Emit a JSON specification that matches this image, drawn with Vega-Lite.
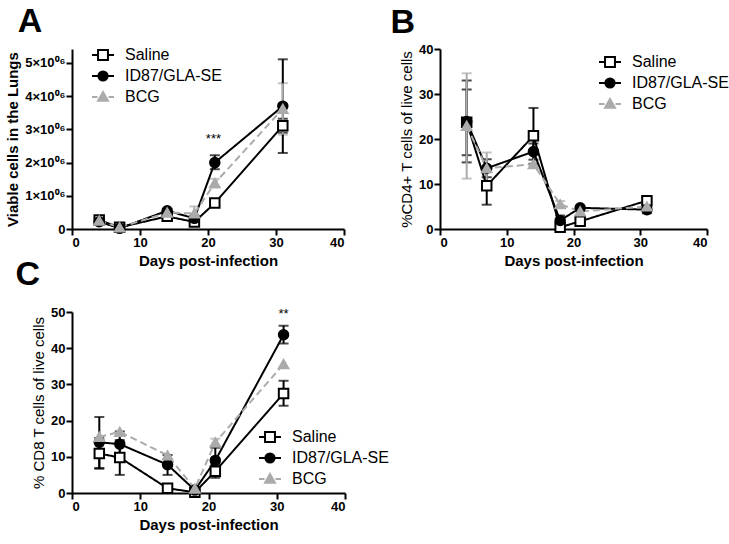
{
  "$schema": "https://vega.github.io/schema/vega-lite/v6.json",
  "padding": {"left": 5, "top": 5, "right": 5, "bottom": 5},
  "config": {
    "font": "Liberation Sans",
    "view": {"stroke": null},
    "axis": {"domainColor": "black", "domainWidth": 2, "tickColor": "black", "tickWidth": 2, "tickSize": 6, "labelFontWeight": "bold", "labelFontSize": 13, "labelColor": "black", "titleFontSize": 15, "titleFontWeight": "bold", "titleColor": "black", "grid": false, "labelPadding": 1, "titlePadding": 4, "labelOverlap": false},
    "title": {"fontSize": 34, "fontWeight": "bold", "anchor": "start", "color": "black", "offset": 0, "dx": 12},
    "legend": {"labelFont": "Liberation Sans"}
  },
  "datasets": {
    "A": [
      {"g": "Saline", "day": 4, "v": 270000, "lo": 220000, "hi": 320000},
      {"g": "Saline", "day": 7, "v": 50000, "lo": null, "hi": null},
      {"g": "Saline", "day": 14, "v": 380000, "lo": 320000, "hi": 440000},
      {"g": "Saline", "day": 18, "v": 210000, "lo": 170000, "hi": 250000},
      {"g": "Saline", "day": 21, "v": 780000, "lo": 700000, "hi": 860000},
      {"g": "Saline", "day": 31, "v": 3110000, "lo": 2900000, "hi": 3320000},
      {"g": "ID87/GLA-SE", "day": 4, "v": 220000, "lo": 180000, "hi": 260000},
      {"g": "ID87/GLA-SE", "day": 7, "v": 20000, "lo": null, "hi": null},
      {"g": "ID87/GLA-SE", "day": 14, "v": 550000, "lo": 500000, "hi": 600000},
      {"g": "ID87/GLA-SE", "day": 18, "v": 320000, "lo": 260000, "hi": 380000},
      {"g": "ID87/GLA-SE", "day": 21, "v": 2000000, "lo": 1800000, "hi": 2220000},
      {"g": "ID87/GLA-SE", "day": 31, "v": 3700000, "lo": 2290000, "hi": 5110000},
      {"g": "BCG", "day": 4, "v": 250000, "lo": null, "hi": null},
      {"g": "BCG", "day": 7, "v": 50000, "lo": null, "hi": null},
      {"g": "BCG", "day": 14, "v": 490000, "lo": null, "hi": null},
      {"g": "BCG", "day": 18, "v": 470000, "lo": 280000, "hi": 680000},
      {"g": "BCG", "day": 21, "v": 1380000, "lo": 1250000, "hi": 1510000},
      {"g": "BCG", "day": 31, "v": 3620000, "lo": 2840000, "hi": 4390000}
    ],
    "B": [
      {"g": "Saline", "day": 4, "v": 23.7, "lo": 16.4, "hi": 31.0},
      {"g": "Saline", "day": 7, "v": 9.6, "lo": 5.4, "hi": 13.8},
      {"g": "Saline", "day": 14, "v": 20.7, "lo": 14.5, "hi": 26.9},
      {"g": "Saline", "day": 18, "v": 0.4, "lo": null, "hi": null},
      {"g": "Saline", "day": 21, "v": 1.7, "lo": null, "hi": null},
      {"g": "Saline", "day": 31, "v": 6.3, "lo": null, "hi": null},
      {"g": "ID87/GLA-SE", "day": 4, "v": 23.9, "lo": 14.8, "hi": 33.0},
      {"g": "ID87/GLA-SE", "day": 7, "v": 13.5, "lo": 11.5, "hi": 15.5},
      {"g": "ID87/GLA-SE", "day": 14, "v": 17.2, "lo": 15.4, "hi": 19.0},
      {"g": "ID87/GLA-SE", "day": 18, "v": 1.9, "lo": 0.8, "hi": 3.0},
      {"g": "ID87/GLA-SE", "day": 21, "v": 4.7, "lo": null, "hi": null},
      {"g": "ID87/GLA-SE", "day": 31, "v": 4.3, "lo": 3.5, "hi": 5.1},
      {"g": "BCG", "day": 4, "v": 22.9, "lo": 11.2, "hi": 34.6},
      {"g": "BCG", "day": 7, "v": 13.5, "lo": 10.0, "hi": 17.0},
      {"g": "BCG", "day": 14, "v": 14.4, "lo": null, "hi": null},
      {"g": "BCG", "day": 18, "v": 5.5, "lo": 4.8, "hi": 6.2},
      {"g": "BCG", "day": 21, "v": 3.9, "lo": null, "hi": null},
      {"g": "BCG", "day": 31, "v": 5.0, "lo": null, "hi": null}
    ],
    "C": [
      {"g": "Saline", "day": 4, "v": 10.9, "lo": 6.7, "hi": 15.2},
      {"g": "Saline", "day": 7, "v": 9.8, "lo": 5.0, "hi": 14.6},
      {"g": "Saline", "day": 14, "v": 1.3, "lo": null, "hi": null},
      {"g": "Saline", "day": 18, "v": 0.2, "lo": null, "hi": null},
      {"g": "Saline", "day": 21, "v": 6.0, "lo": 4.2, "hi": 7.8},
      {"g": "Saline", "day": 31, "v": 27.5, "lo": 24.1, "hi": 31.0},
      {"g": "ID87/GLA-SE", "day": 4, "v": 14.0, "lo": 6.9, "hi": 21.0},
      {"g": "ID87/GLA-SE", "day": 7, "v": 13.5, "lo": 10.0, "hi": 17.0},
      {"g": "ID87/GLA-SE", "day": 14, "v": 7.8, "lo": 5.0, "hi": 10.5},
      {"g": "ID87/GLA-SE", "day": 18, "v": 0.8, "lo": null, "hi": null},
      {"g": "ID87/GLA-SE", "day": 21, "v": 9.0, "lo": 5.5, "hi": 12.5},
      {"g": "ID87/GLA-SE", "day": 31, "v": 43.7, "lo": 41.3, "hi": 46.2},
      {"g": "BCG", "day": 4, "v": 15.5, "lo": null, "hi": null},
      {"g": "BCG", "day": 7, "v": 16.9, "lo": null, "hi": null},
      {"g": "BCG", "day": 14, "v": 10.4, "lo": null, "hi": null},
      {"g": "BCG", "day": 18, "v": 1.2, "lo": null, "hi": null},
      {"g": "BCG", "day": 21, "v": 14.0, "lo": 13.0, "hi": 15.0},
      {"g": "BCG", "day": 31, "v": 35.6, "lo": null, "hi": null}
    ]
  },
  "spacing": -10,
  "vconcat": [
    {
      "spacing": 45,
      "hconcat": [
        {
          "width": 272, "height": 180,
          "title": {"text": "A"},
          "data": {"name": "A"},
          "encoding": {"x": {"field": "day", "type": "quantitative", "scale": {"domain": [0, 40], "nice": false}, "axis": {"values": [0, 10, 20, 30, 40], "title": "Days post-infection"}}},
          "layer": [
            {"transform": [{"filter": "isValid(datum.lo)"}], "mark": {"type": "errorbar", "thickness": 2, "ticks": {"size": 10, "thickness": 2}},
             "encoding": {"y": {"field": "lo", "type": "quantitative", "scale": {"domain": [0, 5420000], "nice": false}, "axis": {"values": [0, 1000000, 2000000, 3000000, 4000000, 5000000], "labelExpr": "datum.value == 0 ? '0' : format(datum.value/1000000, 'd') + '×10⁰⁶'", "title": "Viable cells in the Lungs"}}, "y2": {"field": "hi"}, "color": {"field": "g", "type": "nominal", "scale": {"domain": ["Saline", "ID87/GLA-SE", "BCG"], "range": ["#000000", "#000000", "#ababab"]}, "legend": null}}},
            {"mark": {"type": "line", "strokeWidth": 2},
             "encoding": {"y": {"field": "v", "type": "quantitative", "axis": {"values": [0, 1000000, 2000000, 3000000, 4000000, 5000000], "labelExpr": "datum.value == 0 ? '0' : format(datum.value/1000000, 'd') + '×10⁰⁶'", "title": "Viable cells in the Lungs"}},
               "color": {"field": "g", "type": "nominal", "legend": null},
               "strokeDash": {"field": "g", "type": "nominal", "scale": {"domain": ["Saline", "ID87/GLA-SE", "BCG"], "range": [[1, 0], [1, 0], [7, 4]]}, "legend": null}}},
            {"mark": {"type": "point", "filled": true, "opacity": 1, "size": 90, "strokeWidth": 2},
             "encoding": {"y": {"field": "v", "type": "quantitative", "axis": {"values": [0, 1000000, 2000000, 3000000, 4000000, 5000000], "labelExpr": "datum.value == 0 ? '0' : format(datum.value/1000000, 'd') + '×10⁰⁶'", "title": "Viable cells in the Lungs"}},
               "shape": {"field": "g", "type": "nominal", "scale": {"domain": ["Saline", "ID87/GLA-SE", "BCG"], "range": ["square", "circle", "triangle-up"]}, "legend": null},
               "fill": {"field": "g", "type": "nominal", "scale": {"domain": ["Saline", "ID87/GLA-SE", "BCG"], "range": ["#ffffff", "#000000", "#ababab"]}, "legend": null},
               "stroke": {"field": "g", "type": "nominal", "scale": {"domain": ["Saline", "ID87/GLA-SE", "BCG"], "range": ["#000000", "#000000", "#ababab"]}, "legend": null}}},
            {"transform": [{"filter": "datum.day < 0"}], "mark": {"type": "point", "filled": true, "opacity": 1, "strokeWidth": 2},
             "encoding": {
               "shape": {"field": "g", "type": "nominal", "scale": {"domain": ["Saline", "ID87/GLA-SE", "BCG"], "range": ["M-1,0H-0.45M0.45,0H1M-0.45,-0.45H0.45V0.45H-0.45Z", "M-1,0H1M0.42,0A0.42,0.42,0,1,1,-0.42,0A0.42,0.42,0,1,1,0.42,0Z", "M-1,0H-0.5M0.5,0H1M0,-0.45L0.45,0.35H-0.45Z"]}, "legend": {"orient": "none", "legendX": 19, "legendY": -6, "title": null, "symbolSize": 484, "symbolStrokeWidth": 2, "symbolOpacity": 1, "labelFontSize": 16, "labelOffset": 10, "rowPadding": 0, "padding": 0, "labelColor": "black"}},
               "fill": {"field": "g", "type": "nominal", "scale": {"domain": ["Saline", "ID87/GLA-SE", "BCG"], "range": ["#ffffff", "#000000", "#ababab"]}, "legend": {"orient": "none", "legendX": 19, "legendY": -6, "title": null, "symbolSize": 484, "symbolStrokeWidth": 2, "symbolOpacity": 1, "labelFontSize": 16, "labelOffset": 10, "rowPadding": 0, "padding": 0, "labelColor": "black"}},
               "stroke": {"field": "g", "type": "nominal", "scale": {"domain": ["Saline", "ID87/GLA-SE", "BCG"], "range": ["#000000", "#000000", "#ababab"]}, "legend": {"orient": "none", "legendX": 19, "legendY": -6, "title": null, "symbolSize": 484, "symbolStrokeWidth": 2, "symbolOpacity": 1, "labelFontSize": 16, "labelOffset": 10, "rowPadding": 0, "padding": 0, "labelColor": "black"}}}},
            {"data": {"values": [{"day": 20.8, "v": 2700000, "label": "***"}]}, "mark": {"type": "text", "fontSize": 13, "color": "black"},
             "encoding": {"y": {"field": "v", "type": "quantitative", "axis": {"values": [0, 1000000, 2000000, 3000000, 4000000, 5000000], "labelExpr": "datum.value == 0 ? '0' : format(datum.value/1000000, 'd') + '×10⁰⁶'", "title": "Viable cells in the Lungs"}}, "text": {"field": "label"}}}
          ],
          "resolve": {"scale": {"shape": "independent", "fill": "independent", "stroke": "independent"}}
        },
        {
          "width": 267, "height": 180,
          "title": {"text": "B", "dx": -9, "offset": 3},
          "data": {"name": "B"},
          "encoding": {"x": {"field": "day", "type": "quantitative", "scale": {"domain": [0, 40], "nice": false}, "axis": {"values": [0, 10, 20, 30, 40], "title": "Days post-infection"}}},
          "layer": [
            {"transform": [{"filter": "isValid(datum.lo)"}], "mark": {"type": "errorbar", "thickness": 2, "ticks": {"size": 10, "thickness": 2}},
             "encoding": {"y": {"field": "lo", "type": "quantitative", "scale": {"domain": [0, 40], "nice": false}, "axis": {"values": [0, 10, 20, 30, 40], "title": "%CD4+ T cells of live cells", "titleFontWeight": "normal"}}, "y2": {"field": "hi"}, "color": {"field": "g", "type": "nominal", "scale": {"domain": ["Saline", "ID87/GLA-SE", "BCG"], "range": ["#000000", "#000000", "#ababab"]}, "legend": null}}},
            {"mark": {"type": "line", "strokeWidth": 2},
             "encoding": {"y": {"field": "v", "type": "quantitative", "axis": {"values": [0, 10, 20, 30, 40], "title": "%CD4+ T cells of live cells", "titleFontWeight": "normal"}},
               "color": {"field": "g", "type": "nominal", "legend": null},
               "strokeDash": {"field": "g", "type": "nominal", "scale": {"domain": ["Saline", "ID87/GLA-SE", "BCG"], "range": [[1, 0], [1, 0], [7, 4]]}, "legend": null}}},
            {"mark": {"type": "point", "filled": true, "opacity": 1, "size": 90, "strokeWidth": 2},
             "encoding": {"y": {"field": "v", "type": "quantitative", "axis": {"values": [0, 10, 20, 30, 40], "title": "%CD4+ T cells of live cells", "titleFontWeight": "normal"}},
               "shape": {"field": "g", "type": "nominal", "scale": {"domain": ["Saline", "ID87/GLA-SE", "BCG"], "range": ["square", "circle", "triangle-up"]}, "legend": null},
               "fill": {"field": "g", "type": "nominal", "scale": {"domain": ["Saline", "ID87/GLA-SE", "BCG"], "range": ["#ffffff", "#000000", "#ababab"]}, "legend": null},
               "stroke": {"field": "g", "type": "nominal", "scale": {"domain": ["Saline", "ID87/GLA-SE", "BCG"], "range": ["#000000", "#000000", "#ababab"]}, "legend": null}}},
            {"transform": [{"filter": "datum.day < 0"}], "mark": {"type": "point", "filled": true, "opacity": 1, "strokeWidth": 2},
             "encoding": {
               "shape": {"field": "g", "type": "nominal", "scale": {"domain": ["Saline", "ID87/GLA-SE", "BCG"], "range": ["M-1,0H-0.45M0.45,0H1M-0.45,-0.45H0.45V0.45H-0.45Z", "M-1,0H1M0.42,0A0.42,0.42,0,1,1,-0.42,0A0.42,0.42,0,1,1,0.42,0Z", "M-1,0H-0.5M0.5,0H1M0,-0.45L0.45,0.35H-0.45Z"]}, "legend": {"orient": "none", "legendX": 158, "legendY": 1, "title": null, "symbolSize": 484, "symbolStrokeWidth": 2, "symbolOpacity": 1, "labelFontSize": 16, "labelOffset": 10, "rowPadding": 0, "padding": 0, "labelColor": "black"}},
               "fill": {"field": "g", "type": "nominal", "scale": {"domain": ["Saline", "ID87/GLA-SE", "BCG"], "range": ["#ffffff", "#000000", "#ababab"]}, "legend": {"orient": "none", "legendX": 158, "legendY": 1, "title": null, "symbolSize": 484, "symbolStrokeWidth": 2, "symbolOpacity": 1, "labelFontSize": 16, "labelOffset": 10, "rowPadding": 0, "padding": 0, "labelColor": "black"}},
               "stroke": {"field": "g", "type": "nominal", "scale": {"domain": ["Saline", "ID87/GLA-SE", "BCG"], "range": ["#000000", "#000000", "#ababab"]}, "legend": {"orient": "none", "legendX": 158, "legendY": 1, "title": null, "symbolSize": 484, "symbolStrokeWidth": 2, "symbolOpacity": 1, "labelFontSize": 16, "labelOffset": 10, "rowPadding": 0, "padding": 0, "labelColor": "black"}}}}
          ],
          "resolve": {"scale": {"shape": "independent", "fill": "independent", "stroke": "independent"}}
        }
      ]
    },
    {
      "width": 273, "height": 181,
      "title": {"text": "C", "dx": -16, "offset": 14},
      "data": {"name": "C"},
      "encoding": {"x": {"field": "day", "type": "quantitative", "scale": {"domain": [0, 40], "nice": false}, "axis": {"values": [0, 10, 20, 30, 40], "title": "Days post-infection"}}},
      "layer": [
        {"transform": [{"filter": "isValid(datum.lo)"}], "mark": {"type": "errorbar", "thickness": 2, "ticks": {"size": 10, "thickness": 2}},
         "encoding": {"y": {"field": "lo", "type": "quantitative", "scale": {"domain": [0, 50], "nice": false}, "axis": {"values": [0, 10, 20, 30, 40, 50], "title": "% CD8 T cells of live cells", "titleFontWeight": "normal"}}, "y2": {"field": "hi"}, "color": {"field": "g", "type": "nominal", "scale": {"domain": ["Saline", "ID87/GLA-SE", "BCG"], "range": ["#000000", "#000000", "#ababab"]}, "legend": null}}},
        {"mark": {"type": "line", "strokeWidth": 2},
         "encoding": {"y": {"field": "v", "type": "quantitative", "axis": {"values": [0, 10, 20, 30, 40, 50], "title": "% CD8 T cells of live cells", "titleFontWeight": "normal"}},
           "color": {"field": "g", "type": "nominal", "legend": null},
           "strokeDash": {"field": "g", "type": "nominal", "scale": {"domain": ["Saline", "ID87/GLA-SE", "BCG"], "range": [[1, 0], [7, 4], [7, 4]]}, "legend": null}}},
        {"mark": {"type": "point", "filled": true, "opacity": 1, "size": 90, "strokeWidth": 2},
         "encoding": {"y": {"field": "v", "type": "quantitative", "axis": {"values": [0, 10, 20, 30, 40, 50], "title": "% CD8 T cells of live cells", "titleFontWeight": "normal"}},
           "shape": {"field": "g", "type": "nominal", "scale": {"domain": ["Saline", "ID87/GLA-SE", "BCG"], "range": ["square", "circle", "triangle-up"]}, "legend": null},
           "fill": {"field": "g", "type": "nominal", "scale": {"domain": ["Saline", "ID87/GLA-SE", "BCG"], "range": ["#ffffff", "#000000", "#ababab"]}, "legend": null},
           "stroke": {"field": "g", "type": "nominal", "scale": {"domain": ["Saline", "ID87/GLA-SE", "BCG"], "range": ["#000000", "#000000", "#ababab"]}, "legend": null}}},
        {"transform": [{"filter": "datum.day < 0"}], "mark": {"type": "point", "filled": true, "opacity": 1, "strokeWidth": 2},
         "encoding": {
           "shape": {"field": "g", "type": "nominal", "scale": {"domain": ["Saline", "ID87/GLA-SE", "BCG"], "range": ["M-1,0H-0.45M0.45,0H1M-0.45,-0.45H0.45V0.45H-0.45Z", "M-1,0H1M0.42,0A0.42,0.42,0,1,1,-0.42,0A0.42,0.42,0,1,1,0.42,0Z", "M-1,0H-0.5M0.5,0H1M0,-0.45L0.45,0.35H-0.45Z"]}, "legend": {"orient": "none", "legendX": 186, "legendY": 113, "title": null, "symbolSize": 484, "symbolStrokeWidth": 2, "symbolOpacity": 1, "labelFontSize": 16, "labelOffset": 10, "rowPadding": 0, "padding": 0, "labelColor": "black"}},
           "fill": {"field": "g", "type": "nominal", "scale": {"domain": ["Saline", "ID87/GLA-SE", "BCG"], "range": ["#ffffff", "#000000", "#ababab"]}, "legend": {"orient": "none", "legendX": 186, "legendY": 113, "title": null, "symbolSize": 484, "symbolStrokeWidth": 2, "symbolOpacity": 1, "labelFontSize": 16, "labelOffset": 10, "rowPadding": 0, "padding": 0, "labelColor": "black"}},
           "stroke": {"field": "g", "type": "nominal", "scale": {"domain": ["Saline", "ID87/GLA-SE", "BCG"], "range": ["#000000", "#000000", "#ababab"]}, "legend": {"orient": "none", "legendX": 186, "legendY": 113, "title": null, "symbolSize": 484, "symbolStrokeWidth": 2, "symbolOpacity": 1, "labelFontSize": 16, "labelOffset": 10, "rowPadding": 0, "padding": 0, "labelColor": "black"}}}},
        {"data": {"values": [{"day": 31, "v": 49.5, "label": "**"}]}, "mark": {"type": "text", "fontSize": 13, "color": "black"},
         "encoding": {"y": {"field": "v", "type": "quantitative", "axis": {"values": [0, 10, 20, 30, 40, 50], "title": "% CD8 T cells of live cells", "titleFontWeight": "normal"}}, "text": {"field": "label"}}}
      ],
      "resolve": {"scale": {"shape": "independent", "fill": "independent", "stroke": "independent"}}
    }
  ]
}
